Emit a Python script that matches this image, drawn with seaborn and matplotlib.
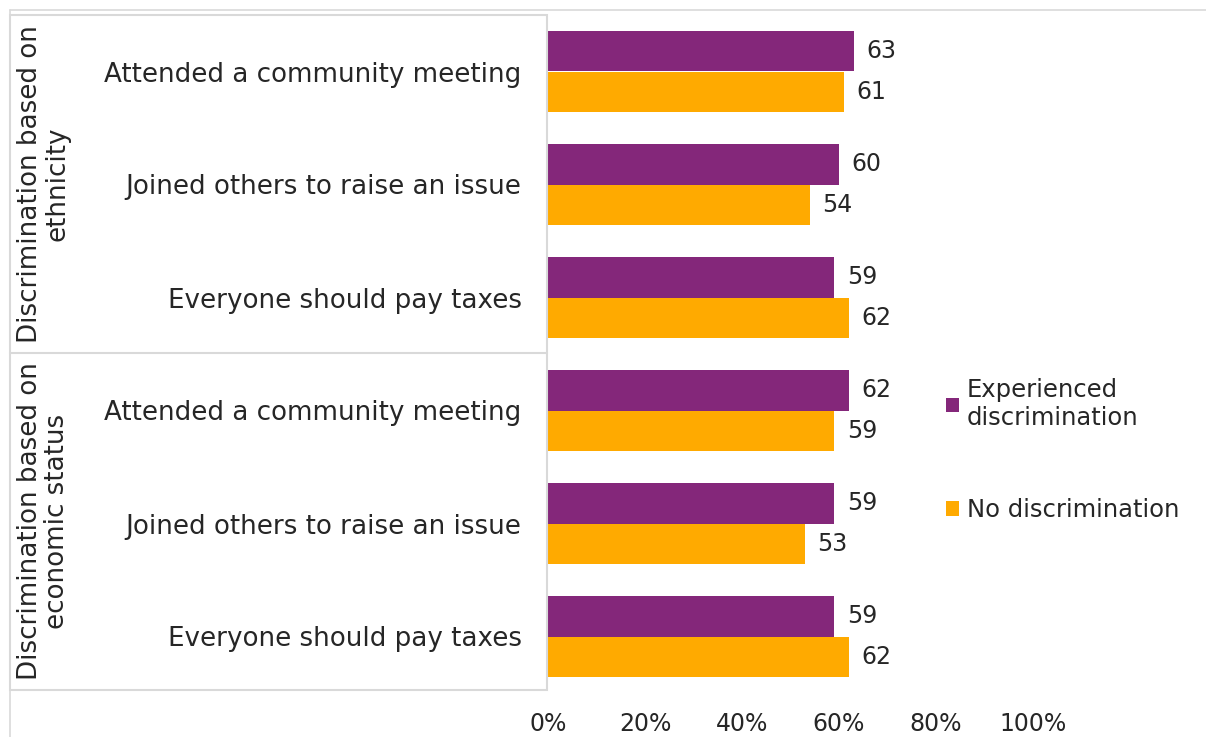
import pandas as pd
import seaborn as sns
import matplotlib.pyplot as plt
from matplotlib.lines import Line2D
from matplotlib.patches import Rectangle

# data
groups = ["Discrimination based on\nethnicity", "Discrimination based on\neconomic status"]
items = ["Attended a community meeting", "Joined others to raise an issue", "Everyone should pay taxes"]
series = ["Experienced\ndiscrimination", "No discrimination"]
experienced = [63, 60, 59, 62, 59, 59]
no_discrim = [61, 54, 62, 59, 53, 62]

purple = "#84277A"
orange = "#FFAA00"

rows = []
for i, (e, n) in enumerate(zip(experienced, no_discrim)):
    key = f"{i // 3}_{items[i % 3]}"
    rows.append({"key": key, "series": series[0], "value": e})
    rows.append({"key": key, "series": series[1], "value": n})
df = pd.DataFrame(rows)

sns.set_theme(style="white")
plt.rcParams["font.family"] = ["DejaVu Sans"]
fs = 17
fs_lab = 18.8
txt = "#262626"

W, H = 1206, 737
fig = plt.figure(figsize=(W / 100, H / 100), dpi=100)
ax = fig.add_axes([548 / W, 1 - 693 / H, 485 / W, (693 - 15) / H])

sns.barplot(data=df, y="key", x="value", hue="series", orient="h",
            palette=[purple, orange], width=0.71, ax=ax, legend=True,
            saturation=1, linewidth=0)

for c in ax.containers:
    ax.bar_label(c, fmt="%d", padding=9, fontsize=fs, color=txt)

ax.set_xlim(0, 100)
ax.set_ylim(5.5, -0.5)
ax.set_xticks([0, 20, 40, 60, 80, 100])
ax.set_xticklabels([f"{t}%" for t in range(0, 101, 20)], fontsize=fs, color=txt)
ax.set_yticks(range(6))
ax.set_yticklabels(items * 2, fontsize=fs_lab, color=txt)
ax.tick_params(axis="x", length=0, pad=14)
ax.tick_params(axis="y", length=0, pad=19)
ax.set_xlabel("")
ax.set_ylabel("")
for s in ax.spines.values():
    s.set_visible(False)

handles, labels = ax.get_legend_handles_labels()
ax.get_legend().remove()
fig.legend(handles, labels, loc="center left", bbox_to_anchor=(946 / W, 1 - 450 / H),
           frameon=False, fontsize=17.5, handlelength=0.55, handleheight=0.55,
           handletextpad=0.3, labelspacing=2.8, labelcolor=txt,
           borderpad=0, borderaxespad=0)

# outer frame lines and the category label box
grey = "#d9d9d9"
fig.add_artist(Line2D([10 / W, 1], [1 - 10 / H, 1 - 10 / H], color=grey, lw=1.2))
fig.add_artist(Line2D([10 / W, 10 / W], [0, 1 - 10 / H], color=grey, lw=1.2))
fig.add_artist(Rectangle((10 / W, 1 - 690 / H), (547 - 10) / W, (690 - 15) / H,
                         fill=False, edgecolor=grey, lw=1.5))
fig.add_artist(Line2D([10 / W, 547 / W], [1 - 353 / H, 1 - 353 / H], color=grey, lw=1.5))

fig.text(44 / W, 1 - 184 / H, groups[0], rotation=90, ha="center", va="center",
         multialignment="center", fontsize=fs_lab, color=txt, linespacing=1.05)
fig.text(44 / W, 1 - 521 / H, groups[1], rotation=90, ha="center", va="center",
         multialignment="center", fontsize=fs_lab, color=txt, linespacing=1.05)

fig.savefig("out.png", dpi=100)
